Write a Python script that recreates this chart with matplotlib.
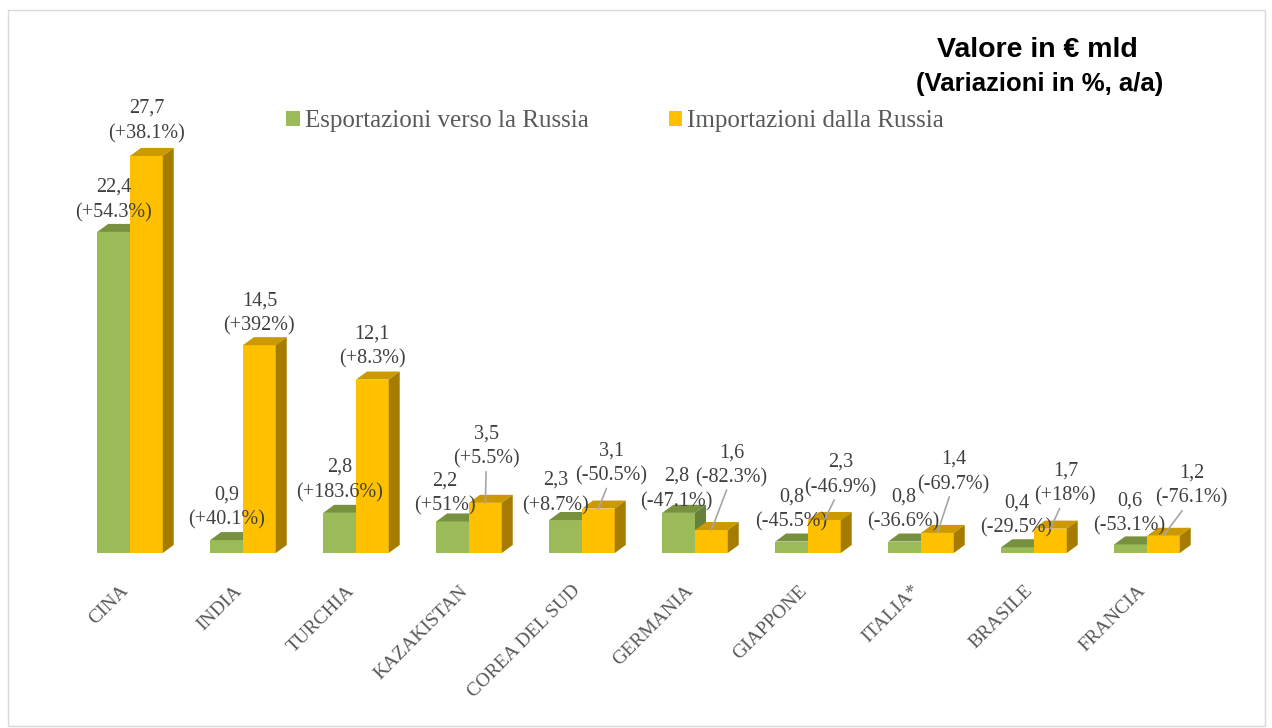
import matplotlib
matplotlib.use("Agg")
import matplotlib.pyplot as plt
from matplotlib.patches import Polygon, Rectangle, Patch
from matplotlib.transforms import ScaledTranslation

# Dati: valore in € mld e variazione % a/a
paesi = ["CINA", "INDIA", "TURCHIA", "KAZAKISTAN", "COREA DEL SUD",
         "GERMANIA", "GIAPPONE", "ITALIA*", "BRASILE", "FRANCIA"]
export_val = [22.4, 0.9, 2.8, 2.2, 2.3, 2.8, 0.8, 0.8, 0.4, 0.6]
export_var = ["+54.3%", "+40.1%", "+183.6%", "+51%", "+8.7%",
              "-47.1%", "-45.5%", "-36.6%", "-29.5%", "-53.1%"]
import_val = [27.7, 14.5, 12.1, 3.5, 3.1, 1.6, 2.3, 1.4, 1.7, 1.2]
import_var = ["+38.1%", "+392%", "+8.3%", "+5.5%", "-50.5%",
              "-82.3%", "-46.9%", "-69.7%", "+18%", "-76.1%"]

# posizione etichette (offset in pixel dalla cima della barra, y verso l'alto)
export_off = [(0, 32), (0, 33), (0, 33), (-8, 28), (-10, 27),
              (-2, 24), (0, 32), (-1, 32), (-1, 32), (-1, 31)]
import_off = [(0, 35), (0, 32), (0, 33), (1, 56), (13, 45),
              (20, 65), (16, 45), (16, 61), (15, 45), (28, 50)]

SERIF = "Liberation Serif"
W = 0.29          # larghezza barra
DX, DY = 0.097, 0.56  # profondità "3D"
LINE = 12.5       # mezza interlinea etichette (pixel)


def bar3d(ax, xs, vals, front, top, side, z):
    bars = ax.bar(xs, vals, width=W, align="edge", color=front,
                  edgecolor="none", zorder=z)
    for b in bars:
        x0, v = b.get_x(), b.get_height()
        ax.add_patch(Polygon([(x0, v), (x0 + DX, v + DY), (x0 + W + DX, v + DY),
                              (x0 + W, v)], closed=True, facecolor=top,
                             edgecolor="none", zorder=z))
        ax.add_patch(Polygon([(x0 + W, 0), (x0 + W + DX, DY),
                              (x0 + W + DX, v + DY), (x0 + W, v)], closed=True,
                             facecolor=side, edgecolor="none", zorder=z))
    return bars


def labels(ax, bars, vals, vars_, offs):
    style = dict(textcoords="offset pixels", ha="center", va="center",
                 fontsize=14.5, family=SERIF, color="#404040", zorder=6)
    for b, v, p, (ox, oy) in zip(bars, vals, vars_, offs):
        xc = b.get_x() + W / 2
        leader = oy > 40
        ax.annotate(f"{v:.1f}".replace(".", ","), xy=(xc, v),
                    xytext=(ox, oy + LINE), **style)
        ax.annotate(f"({p})", xy=(xc, v), xytext=(ox, oy - LINE),
                    arrowprops=dict(arrowstyle="-", color="#A6A6A6", lw=1.2,
                                    shrinkA=0, shrinkB=0) if leader else None,
                    **style)


fig = plt.figure(figsize=(12.72, 7.28), dpi=100)
ax = fig.add_axes([73.5 / 1272, 175 / 728, 1130 / 1272, 430 / 728])

xs = list(range(len(paesi)))
g_bars = bar3d(ax, [x - W for x in xs], export_val,
               "#9BBB59", "#77913F", "#66813A", 2)
y_bars = bar3d(ax, xs, import_val, "#FFC000", "#CC9A00", "#A67C00", 3)
labels(ax, g_bars, export_val, export_var, export_off)
labels(ax, y_bars, import_val, import_var, import_off)

ax.set_xlim(-0.5, len(paesi) - 0.5)
ax.set_ylim(0, 30)
ax.set_yticks([])
for s in ax.spines.values():
    s.set_visible(False)
ax.set_xticks(xs)
ax.set_xticklabels(paesi, rotation=45, ha="right", rotation_mode="anchor",
                   fontsize=14, family=SERIF, color="#595959")
ax.tick_params(axis="x", length=0, pad=16)
shift = ScaledTranslation(-0.10, -0.07, fig.dpi_scale_trans)
for lab in ax.get_xticklabels():
    lab.set_transform(lab.get_transform() + shift)

fig.legend(handles=[Patch(facecolor="#9BBB59"), Patch(facecolor="#FFC000")],
           labels=["Esportazioni verso la Russia", "Importazioni dalla Russia"],
           loc="center", bbox_to_anchor=(615 / 1272, 1 - 121 / 728), ncol=2,
           frameon=False, prop={"family": SERIF, "size": 18},
           labelcolor="#595959", handlelength=0.55, handleheight=0.55,
           handletextpad=0.2, columnspacing=3.2)

fig.text(1037 / 1272, 1 - 50 / 728, "Valore in € mld", ha="center", va="center",
         fontsize=20.5, fontweight="bold", family="Liberation Sans")
fig.text(1040 / 1272, 1 - 84 / 728, "(Variazioni in %, a/a)", ha="center",
         va="center", fontsize=18.5, fontweight="bold", family="Liberation Sans")

fig.add_artist(Rectangle((8 / 1272, 2 / 728), 1257 / 1272, 716 / 728,
                         transform=fig.transFigure, fill=False,
                         edgecolor="#D9D9D9", lw=1))

fig.savefig("out.png", dpi=100)
